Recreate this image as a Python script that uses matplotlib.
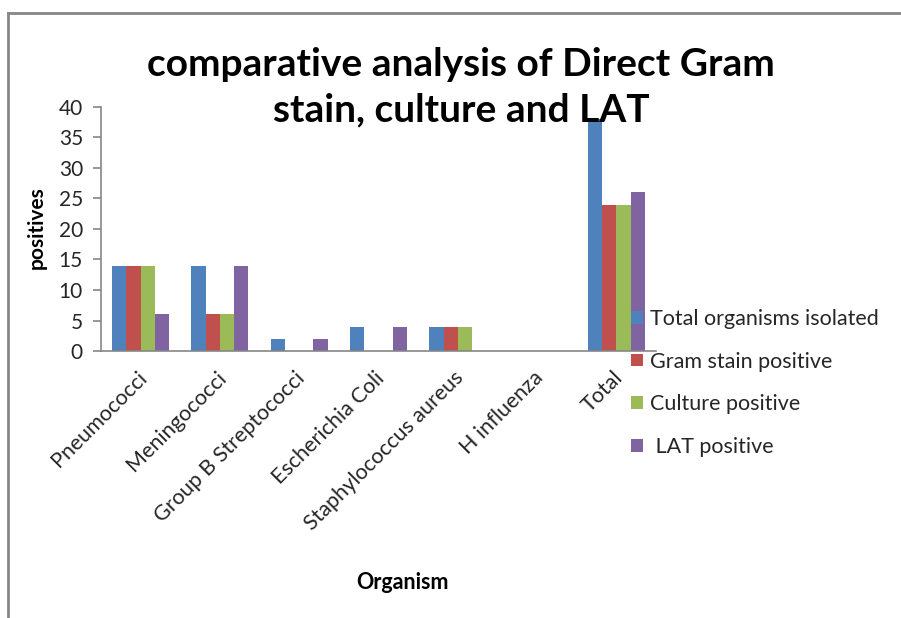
import numpy as np
import matplotlib.pyplot as plt
from matplotlib.lines import Line2D
from matplotlib.transforms import ScaledTranslation

plt.rcParams["font.family"] = ["Lato", "DejaVu Sans"]

# datos
organismos = ["Pneumococci", "Meningococci", "Group B Streptococci", "Escherichia Coli",
              "Staphylococcus aureus", "H influenza", "Total"]
total_aislados = [14, 14, 2, 4, 4, 0, 38]
gram_positivo = [14, 6, 0, 0, 4, 0, 24]
cultivo_positivo = [14, 6, 0, 0, 4, 0, 24]
lat_positivo = [6, 14, 2, 4, 0, 0, 26]

series = [total_aislados, gram_positivo, cultivo_positivo, lat_positivo]
nombres = ["Total organisms isolated", "Gram stain positive", "Culture positive", " LAT positive"]
colores = ["#4F81BD", "#C0504D", "#9BBB59", "#8064A2"]

fig = plt.figure(figsize=(9.01, 6.18), dpi=100)
ax = fig.add_axes([0.1121, 0.432, 0.616, 0.395])

x = np.arange(len(organismos))
ancho = 0.18
for i, (vals, nom, col) in enumerate(zip(series, nombres, colores)):
    ax.bar(x + (i - 1.5) * ancho, vals, ancho, color=col, label=nom, zorder=2)

ax.set_xlim(-0.5, len(organismos) - 0.5)
ax.set_ylim(0, 40)
ax.set_yticks(range(0, 41, 5))

gris = "#868686"
texto = "#262626"
for s in ["top", "right"]:
    ax.spines[s].set_visible(False)
for s in ["left", "bottom"]:
    ax.spines[s].set_color(gris)
    ax.spines[s].set_linewidth(1.2)
ax.tick_params(axis="y", length=6, color=gris, width=1.2, labelsize=15, pad=7,
               labelcolor=texto)
ax.tick_params(axis="x", length=0, pad=4)
ax.set_xticks(x)
ax.set_xticklabels(organismos, rotation=45, ha="right", rotation_mode="anchor",
                   fontsize=15.5, color=texto)
# mover un poco las etiquetas para que terminen junto a la categoria
desplaz = ScaledTranslation(-3 / 72, -8 / 72, fig.dpi_scale_trans)
for lab in ax.get_xticklabels():
    lab.set_transform(lab.get_transform() + desplaz)

fig.text(0.041, 0.631, "positives", fontsize=15, fontweight="bold", rotation=90,
         ha="center", va="center")
fig.text(0.447, 0.057, "Organism", fontsize=15.5, fontweight="bold", ha="center", va="center")

fig.text(0.512, 0.859, "comparative analysis of Direct Gram\nstain, culture and LAT",
         fontsize=28, fontweight="bold", ha="center", va="center", linespacing=1.35)

fig.legend(loc="upper left", bbox_to_anchor=(0.700, 0.500), frameon=False,
           fontsize=15.5, handlelength=0.55, handleheight=0.55, handletextpad=0.35,
           labelspacing=1.05, borderpad=0, borderaxespad=0, labelcolor=texto)

# marco del grafico
y_top = 1 - 13 / 618
x_izq = 8 / 901
fig.add_artist(Line2D([x_izq, x_izq], [0, y_top], color=gris, lw=2))
fig.add_artist(Line2D([x_izq, 1], [y_top, y_top], color=gris, lw=2))

plt.savefig("out.png", dpi=100)
